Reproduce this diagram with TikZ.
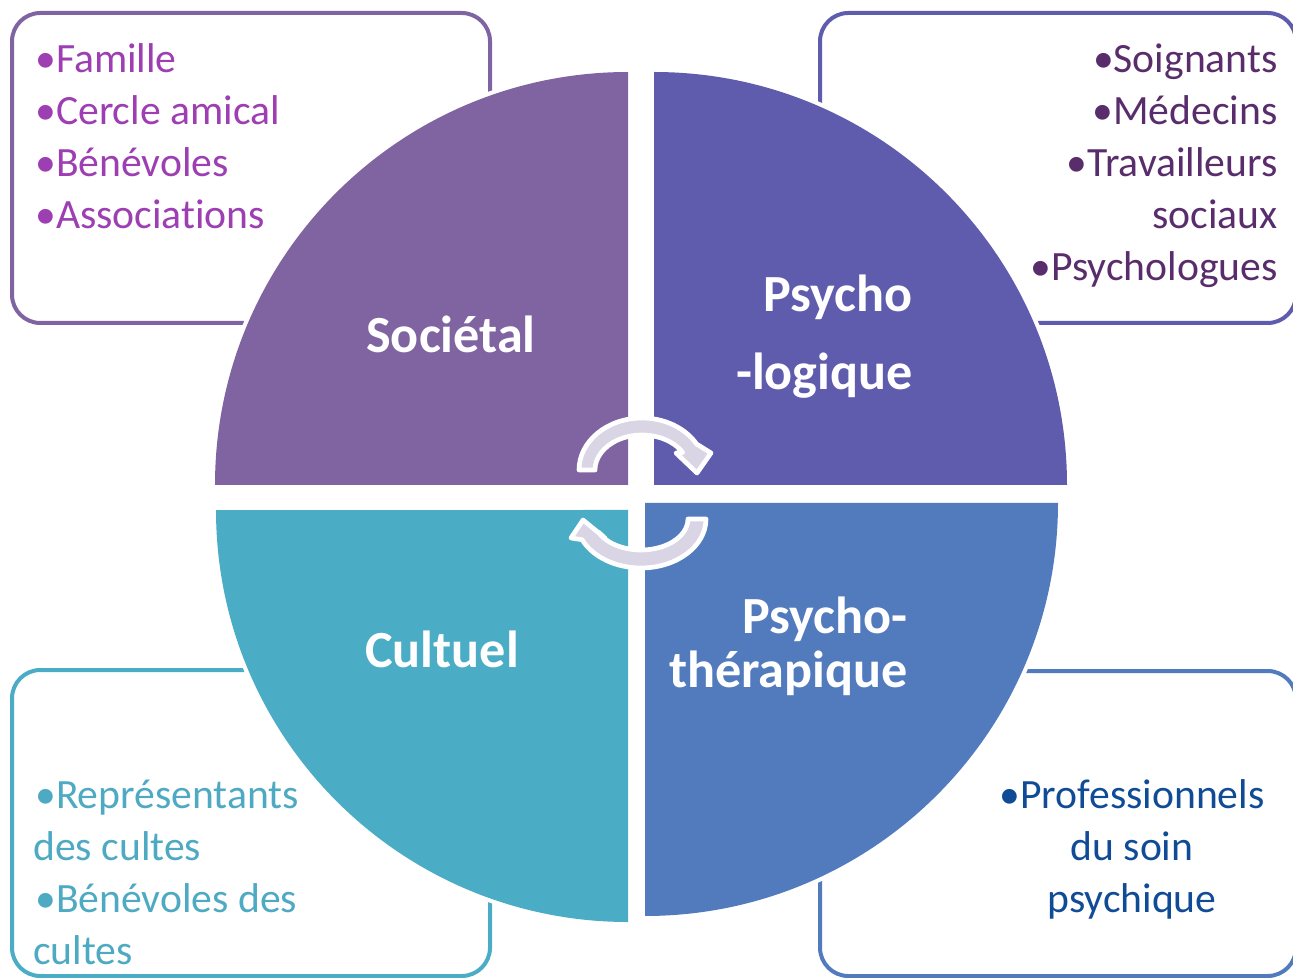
\documentclass[tikz,border=0pt]{standalone}
\usepackage{fontspec}
\setmainfont{Carlito}[Ligatures=NoCommon]
\definecolor{socPurple}{RGB}{128,100,162}
\definecolor{psyViolet}{RGB}{95,91,173}
\definecolor{culTeal}{RGB}{75,172,198}
\definecolor{theBlue}{RGB}{82,123,189}
\definecolor{socText}{RGB}{157,62,178}
\definecolor{psyText}{RGB}{89,45,108}
\definecolor{culText}{RGB}{78,170,195}
\definecolor{theText}{RGB}{16,76,150}
\definecolor{cycFill}{RGB}{217,213,229}

\begin{document}
\begin{tikzpicture}[x=0.6pt,y=0.6pt,
  frame/.style={rounded corners=17pt,line width=2.4pt},
  quarter/.style={preaction={draw=white,line width=5pt}},
  item/.style={inner sep=0pt,font=\fontsize{25}{30}\selectfont},
  title/.style={inner sep=0pt,text=white,font=\fontsize{31.3}{36}\selectfont\bfseries},
  cyc/.style={fill=cycFill,draw=white,line width=2.8pt,line join=round}]
  \useasboundingbox (0,0) rectangle (1293,-978);
  \draw[frame,socPurple] (12,-13) rectangle (490,-323);
  \draw[frame,psyViolet] (820,-13) rectangle (1296,-323);
  \draw[frame,culTeal] (12,-670) rectangle (490,-976);
  \draw[frame,theBlue] (820,-671) rectangle (1296,-976);
  \fill[socPurple,quarter] (628,-485) -- (215,-485) arc[start angle=180,end angle=90,radius=247.8pt] -- cycle;
  \fill[psyViolet,quarter] (654,-485) -- (654,-72) arc[start angle=90,end angle=0,radius=247.8pt] -- cycle;
  \fill[culTeal,quarter] (628,-510) -- (628,-922) arc[start angle=270,end angle=180,radius=247.2pt] -- cycle;
  \fill[theBlue,quarter] (645,-503) -- (1058,-503) arc[start angle=0,end angle=-90,radius=247.8pt] -- cycle;
  \draw[cyc] (579,-470) arc[start angle=180,end angle=30,x radius=37.8pt,y radius=31.2pt]
    -- (711,-453) -- (697,-473) -- (676,-453) -- (682.7,-452.5)
    arc[start angle=30,end angle=180,x radius=28.2pt,y radius=21pt] -- cycle;
  \draw[cyc] (706,-519) arc[start angle=0,end angle=-155,x radius=39pt,y radius=29.4pt]
    -- (571,-538) -- (583,-520) -- (605,-538) -- (598.4,-532.1)
    arc[start angle=-155,end angle=0,x radius=28.2pt,y radius=18.6pt] -- cycle;
  \node[title,anchor=base] (societal) at (451,-353) {Sociétal};
  \node[title,anchor=base east] (psychoA) at (913,-312) {Psycho};
  \node[title,anchor=base east] (psychoB) at (913,-390) {-logique};
  \node[title,anchor=base] (cultuel) at (442,-667) {Cultuel};
  \node[title,anchor=base east] (therapA) at (908,-633) {Psycho-};
  \node[title,anchor=base east] (therapB) at (908,-687) {thérapique};
  \node[item,text=socText,anchor=base west] (famille) at (35,-73) {\textbullet Famille};
  \node[item,text=socText,anchor=base west] (cercle) at (35,-125) {\textbullet Cercle amical};
  \node[item,text=socText,anchor=base west] (benevoles) at (35,-177) {\textbullet Bénévoles};
  \node[item,text=socText,anchor=base west] (assoc) at (35,-229) {\textbullet Associations};
  \node[item,text=psyText,anchor=base east] (soignants) at (1278,-73) {\textbullet Soignants};
  \node[item,text=psyText,anchor=base east] (medecins) at (1278,-125) {\textbullet Médecins};
  \node[item,text=psyText,anchor=base east] (travA) at (1278,-177) {\textbullet Travailleurs};
  \node[item,text=psyText,anchor=base east] (travB) at (1278,-229) {sociaux};
  \node[item,text=psyText,anchor=base east] (psychologues) at (1278,-281) {\textbullet Psychologues};
  \node[item,text=culText,anchor=base west] (reprA) at (35,-808) {\textbullet Représentants};
  \node[item,text=culText,anchor=base west] (reprB) at (33,-860) {des cultes};
  \node[item,text=culText,anchor=base west] (benA) at (35,-912) {\textbullet Bénévoles des};
  \node[item,text=culText,anchor=base west] (benB) at (33,-964) {cultes};
  \node[item,text=theText,anchor=base] (profA) at (1132,-808) {\textbullet Professionnels};
  \node[item,text=theText,anchor=base] (profB) at (1132,-860) {du soin};
  \node[item,text=theText,anchor=base] (profC) at (1132,-912) {psychique};
\end{tikzpicture}
\end{document}
